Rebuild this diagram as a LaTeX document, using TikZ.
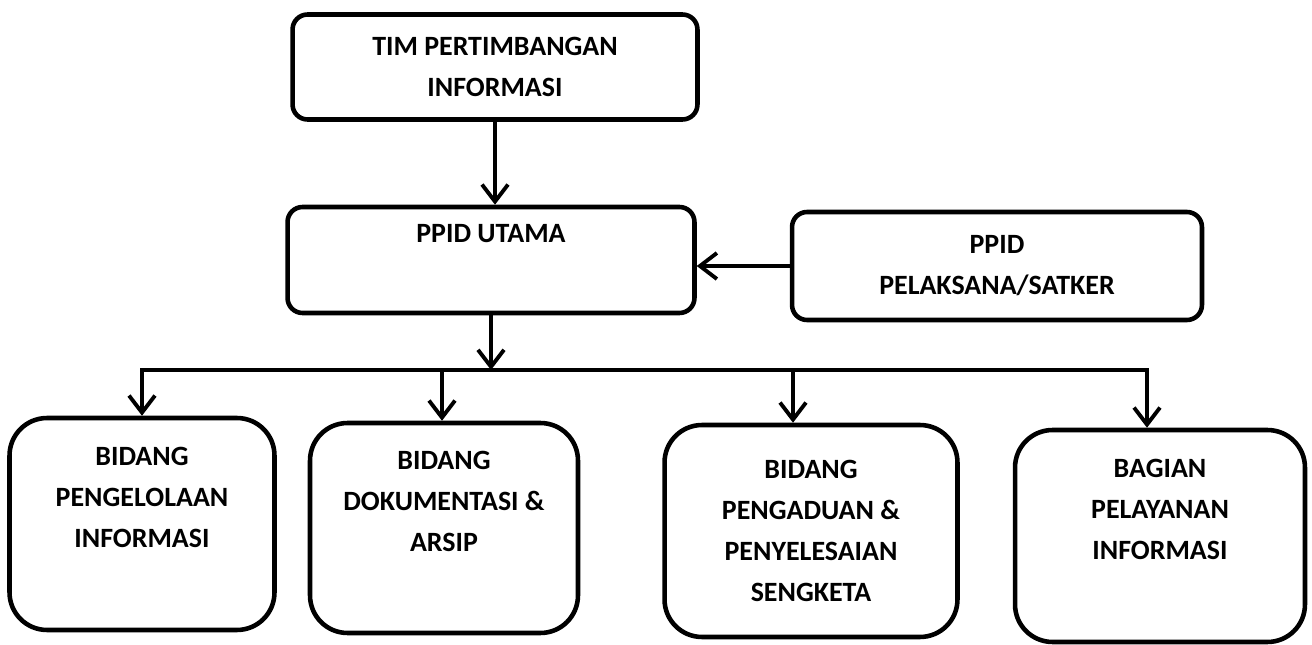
\documentclass[tikz,border=0pt]{standalone}
\usepackage{fontspec}
\setmainfont{Carlito}
\usetikzlibrary{arrows.meta, positioning}

\begin{document}
\begin{tikzpicture}[x=0.02cm, y=-0.02cm,
  font=\bfseries\fontsize{15.9}{23.3}\selectfont,
  unitbox/.style={draw, line width=2.6pt, rounded corners=0.3cm,
    align=center, inner sep=0pt},
  bidangbox/.style={unitbox, rounded corners=0.75cm},
  conn/.style={line width=2.2pt,
    -{Straight Barb[length=0.34cm, width=0.52cm]}},
  busline/.style={line width=2.2pt, line cap=rect}]
  \useasboundingbox (0,0) rectangle (1312,645);

  % upper boxes
  \node[unitbox, minimum width=8.1cm, minimum height=2.1cm] (tim) at (495,67)
    {TIM PERTIMBANGAN\\INFORMASI};
  \node[unitbox, minimum width=8.14cm, minimum height=2.12cm] (utama) at (491,260)
    {PPID UTAMA\\\strut};
  \node[unitbox, minimum width=8.2cm, minimum height=2.16cm] (pelaksana) at (997,266)
    {PPID\\PELAKSANA/SATKER};

  % lower boxes
  \node[bidangbox, minimum width=5.3cm, minimum height=4.24cm] (b1) at (142,524)
    {BIDANG\\PENGELOLAAN\\INFORMASI\\\strut};
  \node[bidangbox, minimum width=5.36cm, minimum height=4.2cm] (b2) at (444,528)
    {BIDANG\\DOKUMENTASI \&\\ARSIP\\\strut};
  \node[bidangbox, minimum width=5.86cm, minimum height=4.24cm] (b3) at (811,531)
    {BIDANG\\PENGADUAN \&\\PENYELESAIAN\\SENGKETA};
  \node[bidangbox, minimum width=5.8cm, minimum height=4.24cm] (b4) at (1160,536)
    {BAGIAN\\PELAYANAN\\INFORMASI\\\strut};

  % connectors
  \draw[conn] (tim.south) -- (tim.south |- utama.north);
  \draw[conn] (pelaksana.west) -- (pelaksana.west -| utama.east);
  \foreach \i/\x in {1/142, 2/442, 3/793, 4/1147} {
    \coordinate (d\i) at (\x,370);
    \draw[conn] (d\i) -- (d\i |- b\i.north);
  }
  \draw[busline] (d1) -- (d4);
  \draw[conn] (utama) -- (utama |- d1);
\end{tikzpicture}
\end{document}
